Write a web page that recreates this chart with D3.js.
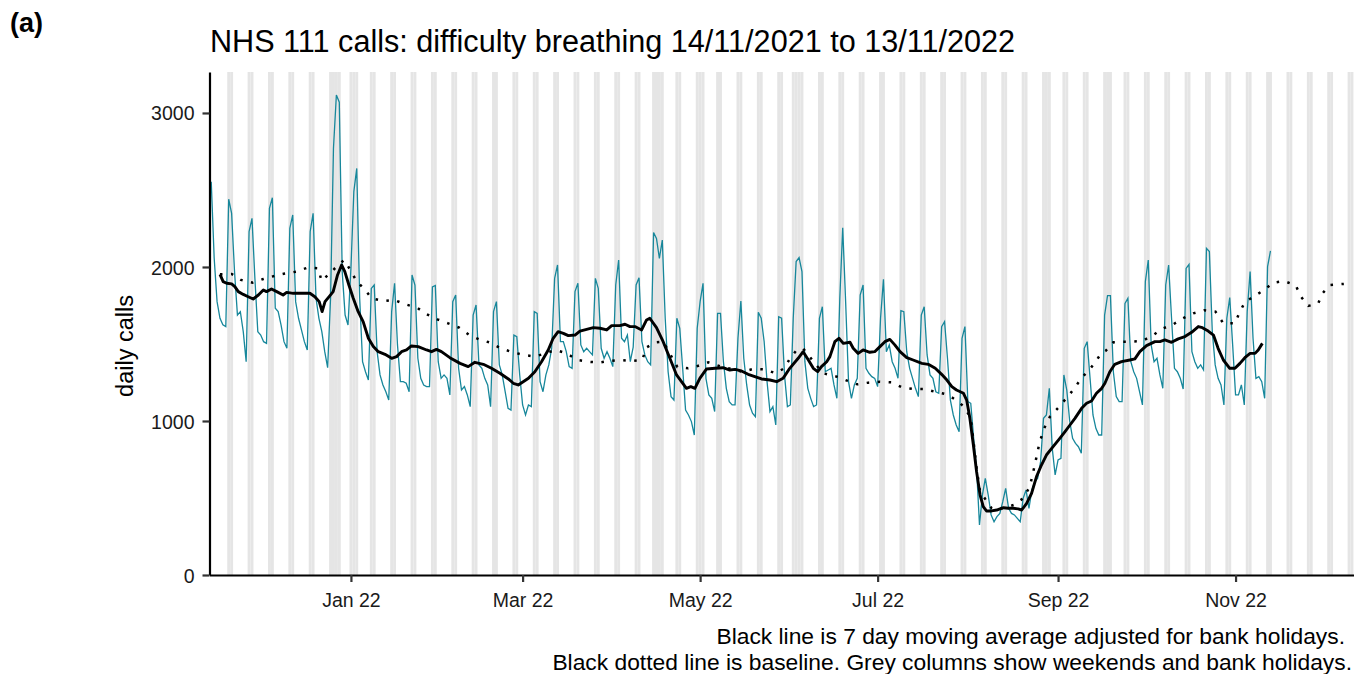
<!DOCTYPE html>
<html>
<head>
<meta charset="utf-8">
<script src="https://cdn.jsdelivr.net/npm/d3@7"></script>
<style>
  body { margin: 0; background: #fff; }
  text { font-family: "Liberation Sans", Arial, sans-serif; }
</style>
</head>
<body>
<svg id="chart" width="1354" height="674"></svg>
<script>
// daily calls, one value per day from 14/11/2021 (a Sunday) to 13/11/2022
var startDate = "2021-11-14";
var dailyCalls = [
  2554, 2060, 1775, 1667, 1625, 1613, 2440,
  2348, 1970, 1688, 1710, 1580, 1385, 2230,
  2316, 1926, 1580, 1558, 1515, 1504, 2380,
  2450, 1732, 1710, 1623, 1515, 1472, 2251,
  2338, 1775, 1667, 1591, 1515, 1461, 2230,
  2348, 1797, 1667, 1580, 1450, 1346, 1797,
  2770, 3117, 3070, 1970, 1688, 1623, 1991,
  2489, 2640, 1800, 1385, 1320, 1266, 1861,
  1883, 1450, 1299, 1234, 1190, 1136, 1710,
  1894, 1494, 1255, 1255, 1245, 1190, 1948,
  1883, 1407, 1277, 1234, 1223, 1223, 1870,
  1880, 1385, 1277, 1299, 1277, 1169, 1775,
  1818, 1342, 1201, 1223, 1169, 1093, 1688,
  1753, 1364, 1342, 1277, 1234, 1093, 1710,
  1775, 1364, 1299, 1190, 1082, 1071, 1558,
  1548, 1299, 1104, 1039, 1104, 1093, 1710,
  1699, 1255, 1190, 1299, 1364, 1472, 1926,
  2013, 1515, 1515, 1450, 1353, 1342, 1840,
  1894, 1494, 1450, 1472, 1450, 1429, 1926,
  1861, 1472, 1407, 1450, 1407, 1353, 1883,
  2045, 1537, 1515, 1558, 1385, 1480, 1883,
  1930, 1515, 1429, 1385, 1364, 2223, 2186,
  2056, 2175, 1667, 1320, 1158, 1136, 1667,
  1602, 1342, 1071, 1039, 996, 909, 1602,
  1775, 1894, 1277, 1169, 1147, 1061, 1699,
  1699, 1385, 1212, 1126, 1104, 1104, 1537,
  1779, 1407, 1234, 1104, 1050, 1028, 1706,
  1667, 1515, 1255, 1061, 1093, 974, 1677,
  1667, 1299, 1093, 1104, 1667, 2035, 2061,
  1970, 1385, 1212, 1147, 1093, 1104, 1667,
  1742, 1320, 1331, 1342, 1234, 1147, 1797,
  2255, 1775, 1255, 1147, 1234, 1277, 1818,
  1883, 1342, 1310, 1288, 1277, 1223, 1667,
  1920, 1450, 1494, 1385, 1342, 1277, 1716,
  1710, 1450, 1342, 1277, 1212, 1158, 1688,
  1742, 1429, 1299, 1277, 1190, 1180, 1613,
  1645, 1407, 1136, 1039, 974, 931, 1537,
  1613, 1126, 1115, 887, 693, 325, 519,
  628, 519, 390, 346, 379, 400, 476,
  563, 433, 400, 390, 368, 346, 498,
  552, 433, 552, 606, 628, 736, 1017,
  1039, 1212, 823, 650, 747, 758, 1299,
  1200, 1000, 887, 855, 833, 790, 1472,
  1515, 1277, 1039, 952, 909, 909, 1688,
  1814, 1814, 1320, 1158, 1126, 1126, 1764,
  1797, 1385, 1320, 1277, 1190, 1104, 1905,
  2045, 1494, 1385, 1407, 1299, 1212, 1883,
  2013, 1667, 1342, 1320, 1277, 1208, 1991,
  2017, 1450, 1385, 1342, 1364, 1331, 2121,
  2100, 1580, 1364, 1277, 1234, 1104, 1667,
  1801, 1494, 1169, 1169, 1234, 1104, 1710,
  1970, 1537, 1277, 1288, 1255, 1147, 2002,
  2104
];

var maDays = [-45, -43.9, -42.7, -41, -39.9, -38.7, -37, -35.3, -33.6, -31.8, -30.1, -29, -27.3, -25.5, -23.3, -22.1,
  -19.8, -17, -14.1, -12.4, -10.9, -9.9, -8.9, -7.2, -6.1, -4.6, -3.2, -2.1, -0.7, 0.8, 2.5, 4.2, 6, 7.7, 9.4,
  11.7, 14, 15.7, 17.4, 19.1, 20.8, 23.1, 26, 27.7, 29.4, 31.1, 34, 37.5, 40.3, 42.6, 45.5, 48.3, 51.2, 54.1,
  55.8, 57.5, 59.2, 61, 63.2, 65.5, 67.8, 69.5, 71.2, 73, 74.7, 77, 78.7, 81, 83.3, 85.6, 87.9, 89.6, 92.4,
  94.2, 95.9, 97.6, 99.9, 101.6, 102.7, 105, 107.3, 109.6, 111.9, 113.6, 115.3, 116.8, 118.2, 119.9, 122.2,
  125.1, 127.9, 130.2, 132, 134.2, 136.5, 138.8, 141.1, 144, 146.3, 148.5, 150.8, 153.7, 155.4, 157.2, 158.9,
  160.4, 161.7, 163.5, 164.6, 166.3, 167.7, 169.2, 171.5, 172.6, 174.3, 176, 178.3, 180, 181.8, 183.5, 185.2,
  186.9, 188.7, 191, 193.2, 196.2, 198.4, 200.8, 203, 204.8, 206.5, 208.1, 210.5, 211.6, 212.7, 213.9, 215,
  216.2, 217.3, 218.4, 220.2, 221.9, 224.2, 225.9, 227.6, 229.3, 230.5, 232.2, 233.9, 235.6, 237.3, 239,
  241.3, 243.6, 245.4, 247.1, 248.8, 251.1, 252.8, 254.5, 256.2, 258, 259.1, 260.8, 262.5, 264.8, 267.7,
  269.4, 271.1, 273.4, 276.3, 278, 279.7, 282, 284.3, 286.6, 288.9, 291.2, 292.6, 294.6, 296.4, 298, 299.8,
  302, 303.8, 305.5, 307.2, 309, 310.7, 311.8, 313.2];
var maValues = [1952, 1905, 1894, 1890, 1872, 1840, 1822, 1807, 1792, 1818, 1851, 1840, 1857, 1840, 1818, 1835,
  1829, 1829, 1829, 1807, 1775, 1710, 1775, 1814, 1840, 1948, 2013, 1970, 1883, 1797, 1710, 1645, 1537, 1483, 1450,
  1433, 1407, 1418, 1450, 1461, 1487, 1483, 1461, 1450, 1465, 1450, 1411, 1374, 1353, 1381, 1368, 1342, 1310, 1273,
  1245, 1234, 1255, 1277, 1320, 1385, 1461, 1537, 1580, 1569, 1554, 1558, 1584, 1595, 1606, 1602, 1591, 1619, 1619,
  1628, 1613, 1613, 1591, 1656, 1667, 1606, 1515, 1407, 1299, 1255, 1212, 1223, 1212, 1277, 1338,
  1342, 1346, 1331, 1335, 1325, 1303, 1288, 1273, 1266, 1255, 1277, 1342, 1407, 1450, 1396, 1342,
  1320, 1353, 1385, 1418, 1515, 1537, 1504, 1511, 1472, 1439, 1461, 1446, 1450, 1483, 1515, 1530,
  1494, 1450, 1411, 1396, 1374, 1368, 1342, 1303, 1266, 1223, 1201, 1180, 1136, 1017, 844, 671,
  519, 444, 416, 416, 422, 437, 433, 433, 429, 422, 465, 530, 639, 714, 779,
  833, 887, 931, 974, 1017, 1082, 1115, 1130, 1180, 1212, 1245, 1320, 1368, 1385, 1396,
  1403, 1450, 1489, 1515, 1515, 1526, 1511, 1533, 1548, 1576, 1613, 1606, 1584, 1558, 1472, 1396,
  1342, 1342, 1374, 1411, 1439, 1439, 1461, 1504];

var baseDays = [-45, -41, -37.8, -33.8, -30.1, -26.3, -22.7, -18.7, -14.9, -11.2, -10.1, -6.9, -4.4, -2.3, 0, 2,
  4.6, 7.1, 11.1, 14.9, 18.6, 22.7, 26, 29.7, 33.4, 37.2, 40.7, 44.1, 47.8, 51.5, 55.6, 59.5, 63.2, 70.4, 74.1,
  77.8, 81.5, 85.2, 88.8, 92.4, 96.4, 100.1, 101.6, 104.5, 107.3, 112.2, 115.9, 119.1, 122.8, 127.2, 130.8, 134.5,
  138.3, 142.3, 145.9, 148.9, 150.9, 153.2, 155.4, 162.2, 166.9, 170.7, 174, 177.8, 181.8, 185.8, 189.6, 193.3,
  197, 200.7, 204.7, 208, 211, 213, 214.1, 215, 216.2, 220.2, 224.2, 227.8, 231, 233.3, 235, 236.7, 238.5, 240.2,
  243.1, 246.3, 248.8, 251.1, 254, 256.3, 257.8, 259.3, 262, 265, 268, 271.9, 275.4, 278.6, 282.6, 286, 289.5,
  293.2, 297.1, 299.8, 303.8, 305.3, 307.2, 310.5, 313.9, 316.9, 320.7, 324.7, 326.5, 329, 332.4, 333.9, 336.4,
  341.2];
var baseValues = [1952, 1955, 1916, 1898, 1922, 1942, 1957, 1970, 1996, 1991, 1909, 1965, 2013, 2045, 1974, 1905,
  1857, 1797, 1779, 1786, 1758, 1736, 1693, 1660, 1634, 1606, 1558, 1530, 1509, 1472, 1446, 1429, 1418, 1461, 1439,
  1396, 1385, 1379, 1390, 1396, 1390, 1396, 1478, 1510, 1515, 1350, 1342, 1357, 1381, 1353, 1338, 1320,
  1338, 1335, 1310, 1342, 1407, 1461, 1470, 1310, 1288, 1260, 1238, 1249, 1255, 1251, 1216, 1208,
  1208, 1190, 1173, 1136, 1087, 1017, 844, 693, 541, 433, 433, 455, 498, 574, 714, 866, 963, 1028,
  1087, 1158, 1216, 1281, 1338, 1396, 1439, 1454, 1511, 1515, 1515, 1519, 1554, 1597, 1628, 1667, 1699,
  1719, 1710, 1634, 1634, 1703, 1771, 1812, 1851, 1898, 1909, 1879, 1807, 1747, 1764, 1829, 1883,
  1890];

var bankHolidays = ["2021-12-27", "2021-12-28", "2022-01-03", "2022-04-15", "2022-04-18", "2022-05-02",
  "2022-06-02", "2022-06-03", "2022-08-29", "2022-09-19"];
var xTicks = ["2022-01-01", "2022-03-01", "2022-05-01", "2022-07-01", "2022-09-01", "2022-11-01"];
var yTicks = [0, 1000, 2000, 3000];

(function() {
  var parse = d3.utcParse("%Y-%m-%d");
  var origin = parse("2022-01-01");
  var dayMs = 864e5;
  var offsetDate = function(d) { return new Date(origin.getTime() + d * dayMs); };

  var svg = d3.select("#chart"),
      plotLeft = 209.5, plotRight = 1354, plotTop = 72, plotBottom = 575;

  var x = d3.scaleUtc()
      .domain([offsetDate(-48.6), offsetDate(344.7)])
      .range([plotLeft, plotRight]);

  var y = d3.scaleLinear()
      .domain([0, 3266])
      .range([plotBottom, plotTop]);

  svg.append("defs").append("clipPath").attr("id", "plot")
    .append("rect").attr("x", plotLeft).attr("y", plotTop)
      .attr("width", plotRight - plotLeft).attr("height", plotBottom - plotTop);

  var plot = svg.append("g").attr("clip-path", "url(#plot)");

  // grey columns: weekends and bank holidays
  var holidaySet = new Set(bankHolidays);
  var fmtDay = d3.utcFormat("%Y-%m-%d");
  var shaded = d3.utcDay.range(parse("2021-11-15"), parse("2022-12-14")).filter(function(d) {
    var wd = d.getUTCDay();
    return wd === 0 || wd === 6 || holidaySet.has(fmtDay(d));
  });

  plot.selectAll(".col")
    .data(shaded)
    .enter().append("rect")
      .attr("class", "col")
      .attr("x", function(d) { return x(new Date(d.getTime() - dayMs / 2)); })
      .attr("width", function(d) { return x(new Date(d.getTime() + dayMs / 2)) - x(new Date(d.getTime() - dayMs / 2)); })
      .attr("y", plotTop)
      .attr("height", plotBottom - plotTop)
      .attr("fill", "#e5e5e5");

  // daily calls
  var start = parse(startDate);
  var daily = dailyCalls.map(function(v, i) { return {date: d3.utcDay.offset(start, i), value: v}; });

  var line = d3.line()
      .x(function(d) { return x(d.date); })
      .y(function(d) { return y(d.value); });

  plot.append("path")
      .datum(daily)
      .attr("fill", "none")
      .attr("stroke", "#17879b")
      .attr("stroke-width", 1.3)
      .attr("d", line);

  // baseline
  var base = baseDays.map(function(d, i) { return {date: offsetDate(d), value: baseValues[i]}; });
  plot.append("path")
      .datum(base)
      .attr("fill", "none")
      .attr("stroke", "#000")
      .attr("stroke-width", 2.5)
      .attr("stroke-dasharray", "2.5,8.5")
      .attr("d", line);

  // moving average
  var ma = maDays.map(function(d, i) { return {date: offsetDate(d), value: maValues[i]}; });
  plot.append("path")
      .datum(ma)
      .attr("fill", "none")
      .attr("stroke", "#000")
      .attr("stroke-width", 2.9)
      .attr("stroke-linejoin", "round")
      .attr("d", line);

  // axes
  var xAxis = svg.append("g")
      .attr("transform", "translate(0," + plotBottom + ")")
      .call(d3.axisBottom(x)
        .tickValues(xTicks.map(parse))
        .tickFormat(d3.utcFormat("%b %y"))
        .tickSize(7)
        .tickSizeOuter(0));

  var yAxis = svg.append("g")
      .attr("transform", "translate(" + plotLeft + ",0)")
      .call(d3.axisLeft(y)
        .tickValues(yTicks)
        .tickFormat(d3.format("d"))
        .tickSize(7)
        .tickSizeOuter(0));

  [xAxis, yAxis].forEach(function(a) {
    a.select(".domain").attr("stroke", "#000").attr("stroke-width", 2.2);
    a.selectAll(".tick line").attr("stroke", "#333").attr("stroke-width", 2.2);
    a.selectAll(".tick text").attr("fill", "#1a1a1a").style("font-size", "19.5px")
      .style("font-family", "'Liberation Sans', Arial, sans-serif");
  });
  xAxis.selectAll(".tick text").attr("y", 32).attr("dy", 0);
  yAxis.selectAll(".tick text").attr("x", -15).attr("dy", "0.36em");

  // titles
  svg.append("text")
      .attr("x", 10).attr("y", 32)
      .style("font-size", "27px").style("font-weight", "bold")
      .text("(a)");

  svg.append("text")
      .attr("x", 210).attr("y", 52)
      .style("font-size", "30.6px")
      .text("NHS 111 calls: difficulty breathing 14/11/2021 to 13/11/2022");

  svg.append("text")
      .attr("transform", "translate(133,346) rotate(-90)")
      .attr("text-anchor", "middle")
      .style("font-size", "23.5px")
      .text("daily calls");

  svg.append("text")
      .attr("x", 1345).attr("y", 644)
      .attr("text-anchor", "end")
      .style("font-size", "22.8px")
      .text("Black line is 7 day moving average adjusted for bank holidays.");

  svg.append("text")
      .attr("x", 1352).attr("y", 670)
      .attr("text-anchor", "end")
      .style("font-size", "22.8px")
      .text("Black dotted line is baseline. Grey columns show weekends and bank holidays.");
})();
</script>
</body>
</html>
